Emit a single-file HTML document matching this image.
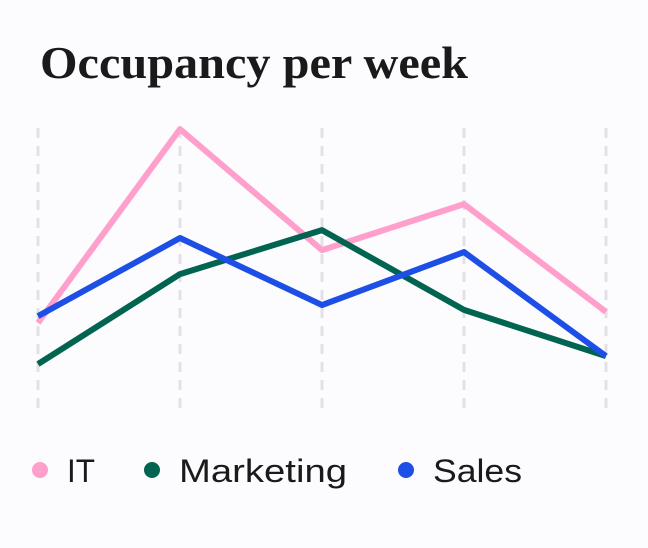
<!DOCTYPE html>
<html><head><meta charset="utf-8"><style>
html,body{margin:0;padding:0;background:#fcfbfd;}
svg{display:block;}
</style></head><body>
<svg width="648" height="548" viewBox="0 0 648 548">
<rect x="0" y="0" width="648" height="548" fill="#fcfbfd"/>
<text x="40" y="78" font-family="Liberation Serif, serif" font-weight="bold" font-size="46" fill="#1a1a1a" textLength="428" lengthAdjust="spacingAndGlyphs">Occupancy per week</text>
<g id="grid"></g>
<g id="series"></g>
<g id="legend"></g>
</svg>
<script>
const weeks = ["W1","W2","W3","W4","W5"];
const itValues = [30.9, 99.6, 56.7, 73, 34.8];
const marketingValues = [16.3, 48.2, 63.8, 35.5, 19.1];
const salesValues = [33.3, 61, 37.2, 56, 19.1];
const seriesNames = ["IT","Marketing","Sales"];
const seriesColors = ["#ff9fcc","#006450","#1d4fe6"];

const NS = "http://www.w3.org/2000/svg";
const xPos = i => 38 + i * 142;
const yPos = v => 410 - v * 2.82;

const grid = document.getElementById("grid");
weeks.forEach((w, i) => {
  const l = document.createElementNS(NS, "line");
  l.setAttribute("x1", xPos(i)); l.setAttribute("x2", xPos(i));
  l.setAttribute("y1", 128); l.setAttribute("y2", 412);
  l.setAttribute("stroke", "#e2e2e6"); l.setAttribute("stroke-width", "3");
  l.setAttribute("stroke-dasharray", "10 8");
  
  
  grid.appendChild(l);
});

const seriesG = document.getElementById("series");
[itValues, marketingValues, salesValues].forEach((vals, s) => {
  const p = document.createElementNS(NS, "polyline");
  p.setAttribute("points", vals.map((v, i) => xPos(i) + "," + yPos(v)).join(" "));
  p.setAttribute("fill", "none");
  p.setAttribute("stroke", seriesColors[s]);
  p.setAttribute("stroke-width", "6");
  p.setAttribute("stroke-linejoin", "round");
  
  
  seriesG.appendChild(p);
});

const legend = document.getElementById("legend");
const legX = [40, 152, 406];
const legW = [28, 168, 89];
seriesNames.forEach((n, s) => {
  const g = document.createElementNS(NS, "g");
  
  
  const c = document.createElementNS(NS, "circle");
  c.setAttribute("cx", legX[s]); c.setAttribute("cy", 470); c.setAttribute("r", 8);
  c.setAttribute("fill", seriesColors[s]);
  g.appendChild(c);
  const t = document.createElementNS(NS, "text");
  t.setAttribute("x", legX[s] + 27); t.setAttribute("y", 482);
  t.setAttribute("font-family", "Liberation Sans, sans-serif");
  t.setAttribute("font-size", "32"); t.setAttribute("fill", "#1a1a1a");
  t.setAttribute("textLength", legW[s]); t.setAttribute("lengthAdjust", "spacingAndGlyphs");
  t.textContent = n;
  g.appendChild(t);
  legend.appendChild(g);
});
</script>
</body></html>
